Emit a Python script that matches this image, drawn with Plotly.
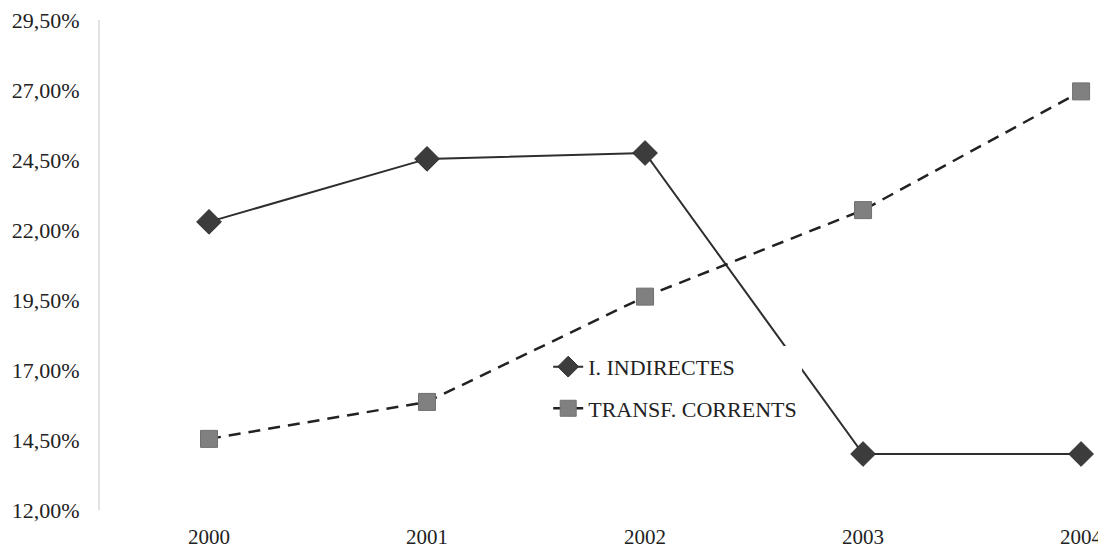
import plotly.graph_objects as go

years = ["2000", "2001", "2002", "2003", "2004"]
indirectes = [22.29, 24.54, 24.75, 14.0, 14.0]
transf = [14.54, 15.86, 19.62, 22.71, 26.95]
tick_vals = [12.0, 14.5, 17.0, 19.5, 22.0, 24.5, 27.0, 29.5]
tick_text = ["12,00%", "14,50%", "17,00%", "19,50%", "22,00%", "24,50%", "27,00%", "29,50%"]

serif = "Liberation Serif, Times New Roman, serif"

fig = go.Figure()
fig.add_trace(go.Scatter(
    x=list(range(len(years))), y=indirectes, name="I. INDIRECTES",
    mode="lines+markers", legendgroup="a",
    line=dict(color="#2e2e2e", width=2),
    marker=dict(symbol="diamond", size=19, color="#3c3c3c",
                line=dict(color="#2a2a2a", width=1)),
))
fig.add_trace(go.Scatter(
    x=list(range(len(years))), y=transf, name="TRANSF. CORRENTS",
    mode="lines+markers", legendgroup="b",
    line=dict(color="#222222", width=2.5, dash="12px,8px"),
    marker=dict(symbol="square", size=17, color="#808080",
                line=dict(color="#707070", width=1)),
))

fig.update_layout(
    width=1106, height=542,
    margin=dict(l=92, r=0, t=12, b=40),
    paper_bgcolor="white", plot_bgcolor="white",
    font=dict(family=serif, size=22, color="#222222"),
    showlegend=True,
    legend=dict(x=0.442, y=0.335, xanchor="left", yanchor="top",
                bgcolor="white", borderwidth=0,
                font=dict(family=serif, size=22, color="#222222"),
                tracegroupgap=10),
    xaxis=dict(
        tickmode="array", tickvals=list(range(len(years))), ticktext=years,
        range=[-0.5, 4.151], showgrid=False, zeroline=False, showline=False,
        ticks="", ticklabelstandoff=12, ticklabeloverflow="allow",
        tickfont=dict(family=serif, size=21, color="#222222"),
    ),
    yaxis=dict(
        tickmode="array", tickvals=tick_vals, ticktext=tick_text,
        range=[12.0, 29.5], showgrid=False, zeroline=False,
        showline=True, linecolor="#e2e2e2", linewidth=2,
        ticks="", ticklabelstandoff=14, ticklabeloverflow="allow",
        tickfont=dict(family=serif, size=22, color="#222222"),
    ),
)

fig.write_html("out.html")
